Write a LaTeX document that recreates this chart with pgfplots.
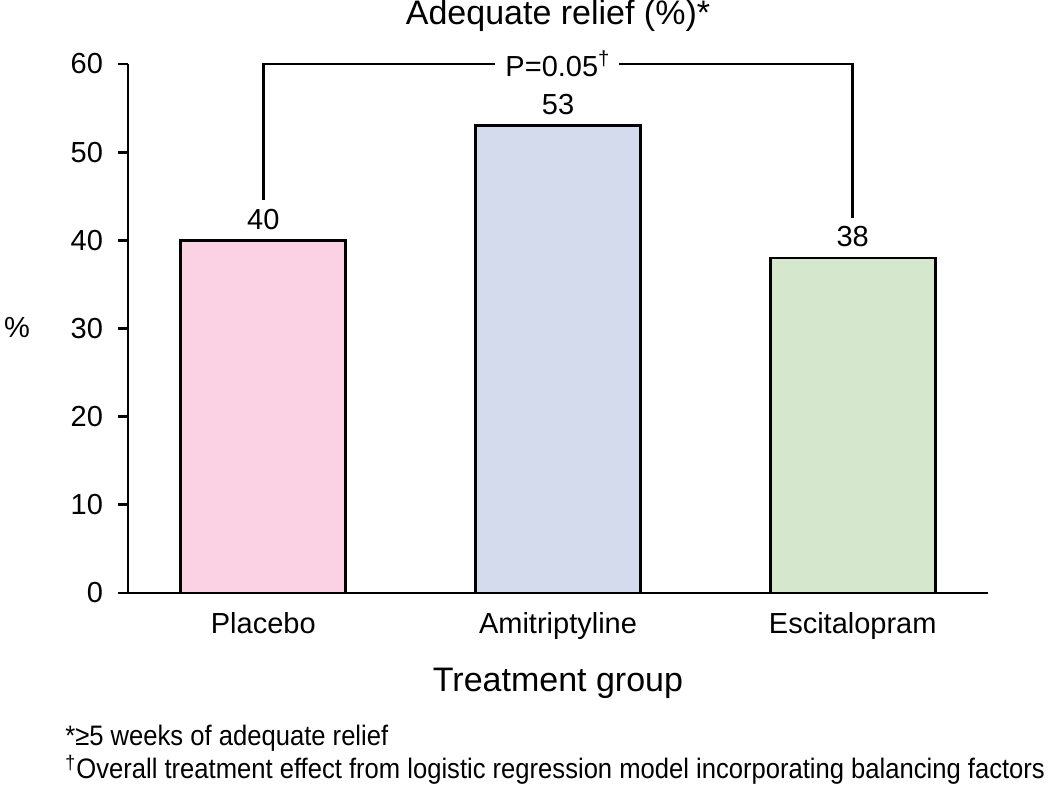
\documentclass[border=0pt]{standalone}
\usepackage{pgfplots}
\pgfplotsset{compat=1.18}
\usepackage{fontspec}
\setmainfont{Liberation Sans}
\definecolor{pinkbar}{HTML}{FBD1E4}
\definecolor{bluebar}{HTML}{D3DBEC}
\definecolor{greenbar}{HTML}{D5E8CD}
\begin{document}
\begin{tikzpicture}
\path[use as bounding box] (-64pt,-99.5pt) rectangle (461pt,296.5pt);
\begin{axis}[
  at={(0,0)}, anchor=south west,
  scale only axis, width=430pt, height=264.5pt,
  ymin=0, ymax=60, ytick={0,10,...,60},
  xmin=-0.459, xmax=2.459,
  xtick={0,1,2}, xticklabels={Placebo,Amitriptyline,Escitalopram},
  axis x line=bottom, axis y line=left,
  axis line style={line width=1.4pt,-},
  x axis line style={-}, y axis line style={-},
  ytick pos=left, tick align=outside,
  major tick length=5pt,
  ytick style={line width=1.4pt, black},
  xtick style={draw=none},
  /pgf/number format/assume math mode=true,
  ticklabel style={font=\fontsize{14.5}{16}\selectfont},
  yticklabel style={xshift=-4pt},
  xticklabel style={yshift=-1pt},
  ybar, bar width=82.5pt, bar shift=0pt,
  nodes near coords,
  every node near coord/.append style={font=\fontsize{14.5}{16}\selectfont, anchor=base, yshift=5.5pt},
  clip=false,
]
\addplot[fill=pinkbar, draw=black, line width=1.4pt] coordinates {(0,40)};
\addplot[fill=bluebar, draw=black, line width=1.4pt] coordinates {(1,53)};
\addplot[fill=greenbar, draw=black, line width=1.4pt] coordinates {(2,38)};
\draw[line width=1.4pt] (axis cs:0,44.6) -- (axis cs:0,60) -- (axis cs:0.785,60);
\draw[line width=1.4pt] (axis cs:1.208,60) -- (axis cs:2,60) -- (axis cs:2,42.5);
\node[font=\fontsize{14.5}{16}\selectfont] at (axis cs:1,60) {P=0.05\textsuperscript{†}};
\end{axis}
\node[anchor=base, font=\fontsize{17}{19}\selectfont] at (215pt,284pt) {Adequate relief (\%)*};
\node[font=\fontsize{14.5}{16}\selectfont] at (-55.5pt,132.5pt) {\%};
\node[font=\fontsize{17}{19}\selectfont] at (215pt,-45pt) {Treatment group};
\node[anchor=base west, inner sep=0pt, font=\fontsize{12.8}{14}\selectfont] at (-31.5pt,-76.5pt) {\scalebox{1}[1.1]{*≥5 weeks of adequate relief}};
\node[anchor=base west, inner sep=0pt, font=\fontsize{12.8}{14}\selectfont] at (-31.5pt,-93pt) {\scalebox{1}[1.1]{\textsuperscript{†}Overall treatment effect from logistic regression model incorporating balancing factors}};
\end{tikzpicture}
\end{document}
